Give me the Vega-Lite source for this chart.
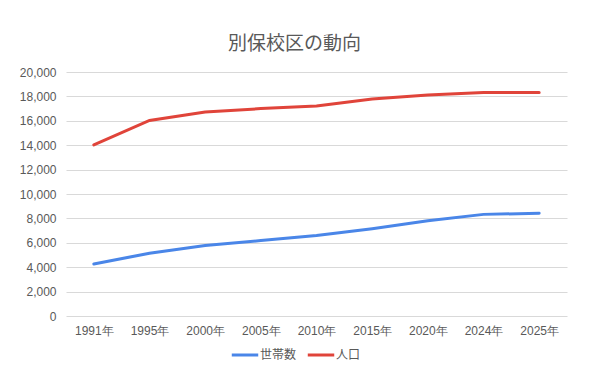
{
  "$schema": "https://vega.github.io/schema/vega-lite/v6.json",
  "width": 501,
  "height": 244,
  "padding": {"left": 18, "top": 35, "right": 28, "bottom": 10},
  "background": "white",
  "title": {
    "text": "別保校区の動向",
    "fontSize": 19,
    "font": "Noto Sans CJK JP",
    "fontWeight": "normal",
    "color": "#595959",
    "anchor": "middle",
    "dx": -22,
    "offset": 12
  },
  "data": {
    "values": [
      {"year": "1991年", "series": "世帯数", "value": 4260},
      {"year": "1995年", "series": "世帯数", "value": 5150},
      {"year": "2000年", "series": "世帯数", "value": 5780},
      {"year": "2005年", "series": "世帯数", "value": 6180},
      {"year": "2010年", "series": "世帯数", "value": 6600},
      {"year": "2015年", "series": "世帯数", "value": 7150},
      {"year": "2020年", "series": "世帯数", "value": 7800},
      {"year": "2024年", "series": "世帯数", "value": 8330},
      {"year": "2025年", "series": "世帯数", "value": 8420},
      {"year": "1991年", "series": "人口", "value": 14020},
      {"year": "1995年", "series": "人口", "value": 16030},
      {"year": "2000年", "series": "人口", "value": 16720},
      {"year": "2005年", "series": "人口", "value": 17000},
      {"year": "2010年", "series": "人口", "value": 17220},
      {"year": "2015年", "series": "人口", "value": 17780},
      {"year": "2020年", "series": "人口", "value": 18120},
      {"year": "2024年", "series": "人口", "value": 18320},
      {"year": "2025年", "series": "人口", "value": 18320}
    ]
  },
  "mark": {"type": "line", "strokeWidth": 3, "strokeCap": "round"},
  "encoding": {
    "x": {
      "field": "year",
      "type": "ordinal",
      "sort": null,
      "scale": {"type": "point", "padding": 0.5},
      "axis": {
        "title": null,
        "labelAngle": 0,
        "domain": false,
        "ticks": false,
        "grid": false,
        "labelPadding": 9,
        "labelFontSize": 12,
        "labelFont": "Liberation Sans",
        "labelColor": "#595959"
      }
    },
    "y": {
      "field": "value",
      "type": "quantitative",
      "scale": {"domain": [0, 20000]},
      "axis": {
        "title": null,
        "values": [0, 2000, 4000, 6000, 8000, 10000, 12000, 14000, 16000, 18000, 20000],
        "format": ",d",
        "labelOverlap": false,
        "domain": false,
        "ticks": false,
        "grid": true,
        "gridColor": "#d9d9d9",
        "labelPadding": 10,
        "labelFontSize": 12,
        "labelFont": "Liberation Sans",
        "labelColor": "#595959",
        "minExtent": 48,
        "maxExtent": 48
      }
    },
    "color": {
      "field": "series",
      "type": "nominal",
      "sort": ["世帯数", "人口"],
      "scale": {"domain": ["世帯数", "人口"], "range": ["#4a86e8", "#e0443a"]},
      "legend": {
        "title": null,
        "orient": "none",
        "legendX": 164,
        "legendY": 268,
        "direction": "horizontal",
        "symbolType": "stroke",
        "symbolStrokeWidth": 3,
        "symbolSize": 700,
        "labelFont": "Noto Sans CJK JP",
        "labelFontSize": 12,
        "labelColor": "#595959",
        "labelOffset": 0,
        "columnPadding": 4
      }
    }
  },
  "config": {
    "view": {"stroke": null}
  }
}
